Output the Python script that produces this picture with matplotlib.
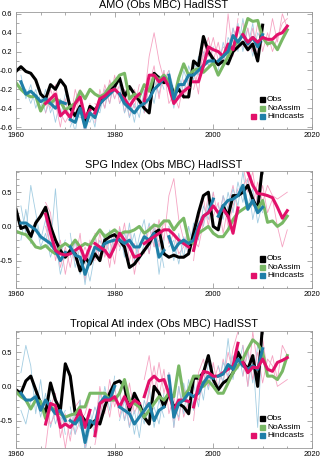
import numpy as np
from matplotlib import pyplot as plt
from matplotlib.ticker import MultipleLocator
from matplotlib.patches import Rectangle

plt.rcParams['font.family'] = ['Liberation Sans', 'DejaVu Sans']

# hindcast start years, each run is 10 years long
starts = [1961, 1966, 1971, 1976, 1981, 1986, 1991, 1996, 2001, 2006]
obs_years = np.arange(1960, 2011)
model_years = np.arange(1960, 2016)

# ---- AMO ----
amo_obs = [-0.01, 0.04, -0.01, -0.03, -0.1, -0.25, -0.3, -0.15, -0.2, -0.1,
           -0.17, -0.4, -0.48, -0.38, -0.55, -0.38, -0.42, -0.35, -0.28, -0.22,
           -0.17, -0.08, -0.28, -0.17, -0.25, -0.32, -0.4, -0.45, -0.03, -0.08,
           -0.13, -0.1, -0.25, -0.2, -0.28, -0.28, 0.1, 0.05, 0.36, 0.2,
           0.12, 0.06, 0.1, 0.07, 0.2, 0.25, 0.3, 0.22, 0.28, 0.1, 0.48]
amo_noassim = [-0.13, -0.2, -0.25, -0.28, -0.27, -0.43, -0.33, -0.35, -0.3, -0.33,
               -0.42, -0.38, -0.35, -0.22, -0.3, -0.2, -0.25, -0.28, -0.25, -0.17,
               -0.12, -0.05, -0.03, -0.3, -0.25, -0.28, -0.15, -0.22, -0.05, -0.1,
               -0.05, -0.12, -0.3, -0.08, 0.07, -0.05, 0.0, 0.02, -0.02, 0.03,
               0.08, -0.05, 0.05, 0.15, 0.25, 0.3, 0.38, 0.55, 0.52, 0.53,
               0.35, 0.28, 0.3, 0.22, 0.33, 0.43]
amo_hind = [
    [-0.12, -0.25, -0.22, -0.27, -0.33, -0.3, -0.35, -0.4, -0.33, -0.35],
    [-0.35, -0.3, -0.25, -0.48, -0.43, -0.5, -0.35, -0.28, -0.5, -0.42],
    [-0.52, -0.55, -0.4, -0.6, -0.45, -0.5, -0.35, -0.3, -0.25, -0.2],
    [-0.45, -0.3, -0.27, -0.22, -0.2, -0.25, -0.3, -0.38, -0.3, -0.25],
    [-0.25, -0.35, -0.4, -0.45, -0.38, -0.35, -0.3, -0.2, -0.15, -0.08],
    [-0.32, -0.05, -0.05, -0.12, -0.08, -0.17, -0.35, -0.28, -0.22, -0.18],
    [-0.05, -0.3, -0.15, -0.15, -0.05, -0.05, 0.0, 0.05, 0.1, 0.1],
    [-0.12, -0.12, 0.05, 0.25, 0.22, 0.2, 0.15, 0.28, 0.22, 0.45],
    [0.1, 0.15, 0.2, 0.37, 0.3, 0.38, 0.28, 0.35, 0.25, 0.38],
    [0.38, 0.3, 0.35, 0.3, 0.35, 0.33, 0.33, 0.38, 0.4, 0.47],
]
amo_members = [
    [-0.05, -0.3, -0.15, -0.4, -0.25, -0.45, -0.3, -0.55, -0.3, -0.45],
    [-0.2, -0.2, -0.35, -0.2, -0.4, -0.2, -0.45, -0.3, -0.5, -0.25],
    [-0.45, -0.2, -0.35, -0.6, -0.3, -0.55, -0.2, -0.4, -0.65, -0.35],
    [-0.3, -0.4, -0.15, -0.45, -0.55, -0.45, -0.5, -0.2, -0.45, -0.5],
    [-0.45, -0.65, -0.35, -0.7, -0.4, -0.6, -0.25, -0.4, -0.15, -0.3],
    [-0.6, -0.45, -0.5, -0.5, -0.55, -0.4, -0.45, -0.2, -0.35, -0.1],
    [-0.55, -0.2, -0.4, -0.1, -0.3, -0.15, -0.45, -0.25, -0.4, -0.15],
    [-0.35, -0.4, -0.15, -0.35, -0.05, -0.35, -0.2, -0.5, -0.2, -0.35],
    [-0.15, -0.45, -0.3, -0.55, -0.25, -0.45, -0.15, -0.35, -0.05, -0.2],
    [-0.35, -0.25, -0.5, -0.35, -0.5, -0.2, -0.4, -0.1, -0.25, 0.0],
    [-0.3, 0.15, 0.4, 0.1, -0.1, 0.0, -0.35, -0.2, -0.3, -0.1],
    [-0.45, -0.15, 0.05, -0.3, 0.0, -0.35, -0.25, -0.4, -0.1, -0.3],
    [-0.1, -0.4, -0.05, -0.25, 0.05, -0.1, 0.15, 0.0, 0.2, 0.05],
    [0.0, -0.2, -0.3, 0.0, -0.15, 0.1, -0.05, 0.2, 0.05, 0.25],
    [-0.2, 0.0, 0.15, 0.35, 0.1, 0.3, 0.05, 0.6, 0.15, 0.55],
    [0.0, -0.25, 0.3, 0.15, 0.35, 0.1, 0.25, 0.2, 0.45, 0.3],
    [0.2, 0.05, 0.35, 0.25, 0.5, 0.2, 0.45, 0.15, 0.4, 0.3],
    [0.0, 0.3, 0.1, 0.45, 0.2, 0.55, 0.25, 0.5, 0.1, 0.45],
    [0.5, 0.2, 0.45, 0.15, 0.4, 0.25, 0.55, 0.3, 0.6, 0.45],
    [0.25, 0.45, 0.2, 0.5, 0.2, 0.4, 0.2, 0.35, 0.5, 0.55],
]
amo_yticks = [-0.6, -0.4, -0.2, 0.0, 0.2, 0.4, 0.6]
amo_ylabels = ['-0.6', '-0.4', '-0.2', '-0.0', '0.2', '0.4', '0.6']

# ---- SPG ----
spg_obs = [0.25, -0.03, 0.0, -0.15, 0.05, 0.15, 0.28, 0.0, -0.2, -0.35,
           -0.45, -0.35, -0.4, -0.65, -0.45, -0.55, -0.4, -0.5, -0.2, -0.15,
           -0.12, -0.2, -0.3, -0.6, -0.55, -0.45, -0.35, -0.25, -0.1, -0.05,
           -0.4, -0.45, -0.42, -0.45, -0.45, -0.4, -0.1, 0.2, 0.45, 0.5,
           0.0, -0.05, 0.3, 0.15, 0.45, 0.45, 0.5, 0.6, 0.4, 0.25, 0.9]
spg_noassim = [-0.07, -0.1, -0.12, -0.2, -0.3, -0.32, -0.28, -0.35, -0.4, -0.3,
               -0.25, -0.3, -0.2, -0.3, -0.25, -0.28, -0.15, -0.05, -0.15, -0.1,
               -0.05, -0.12, -0.08, -0.08, -0.05, 0.0, -0.1, -0.05, 0.02, 0.0,
               0.08, 0.08, -0.05, 0.05, 0.12, -0.2, -0.25, -0.1, -0.05, 0.0,
               -0.1, -0.15, -0.15, -0.05, 0.1, 0.2, 0.25, 0.3, 0.35, 0.25,
               0.38, 0.06, 0.08, 0.0, 0.05, 0.15]
spg_hind = [
    [0.05, 0.05, 0.0, -0.05, -0.15, -0.2, -0.25, -0.35, -0.5, -0.38],
    [0.18, -0.1, -0.35, -0.4, -0.42, -0.4, -0.35, -0.3, -0.48, -0.3],
    [-0.3, -0.42, -0.45, -0.7, -0.5, -0.3, -0.35, -0.25, -0.22, -0.2],
    [-0.25, -0.3, -0.35, -0.45, -0.3, -0.1, -0.2, -0.3, -0.45, -0.42],
    [-0.2, -0.25, -0.2, -0.3, -0.3, -0.15, -0.2, -0.1, -0.45, -0.35],
    [-0.25, -0.2, -0.15, -0.1, -0.05, -0.05, -0.12, -0.2, -0.25, -0.3],
    [-0.15, -0.35, -0.25, -0.2, -0.25, -0.2, 0.0, 0.15, 0.2, 0.4],
    [-0.35, -0.05, 0.15, 0.2, 0.3, 0.2, 0.25, 0.15, -0.1, 0.27],
    [0.15, 0.3, 0.38, 0.4, 0.45, 0.6, 0.25, 0.38, 0.2, 0.28],
    [0.9, 0.8, 0.6, 0.48, 0.47, 0.45, 0.42, 0.28, 0.12, 0.23],
]
spg_members = [
    [0.3, -0.1, 0.6, 0.2, -0.2, 0.1, -0.3, 0.55, -0.4, -0.2],
    [-0.2, 0.25, -0.25, 0.1, -0.3, -0.1, -0.45, -0.2, -0.7, -0.4],
    [0.35, 0.2, -0.5, -0.2, -0.7, -0.3, -0.5, -0.1, -0.8, -0.2],
    [0.0, -0.3, -0.15, -0.6, -0.3, -0.6, -0.2, -0.5, -0.3, -0.5],
    [-0.1, -0.6, -0.3, -0.85, -0.35, -0.15, -0.5, -0.1, -0.4, -0.1],
    [-0.45, -0.2, -0.7, -0.5, -0.8, -0.4, -0.2, -0.4, -0.05, -0.35],
    [-0.5, -0.1, -0.45, -0.2, -0.55, 0.0, -0.35, -0.05, -0.7, -0.3],
    [-0.1, -0.5, -0.2, -0.6, -0.1, -0.3, 0.05, -0.5, -0.25, -0.55],
    [-0.05, -0.45, 0.05, -0.5, -0.15, 0.1, -0.4, 0.0, -0.7, -0.2],
    [-0.35, -0.1, -0.35, -0.1, -0.5, -0.25, 0.05, -0.3, -0.2, -0.6],
    [-0.4, 0.0, -0.3, 0.1, -0.2, 0.45, 0.7, 0.1, -0.2, -0.4],
    [-0.1, -0.4, 0.05, -0.3, 0.1, -0.25, -0.1, -0.4, -0.3, 0.0],
    [0.0, -0.5, -0.1, -0.45, 0.0, -0.3, 0.2, 0.0, 0.35, 0.15],
    [-0.3, -0.2, -0.55, -0.15, -0.4, 0.05, -0.2, 0.3, 0.1, 0.5],
    [-0.5, 0.1, 0.4, 0.0, 0.5, 0.1, 0.45, 0.0, 0.3, 0.55],
    [-0.2, -0.3, 0.05, 0.45, 0.15, 0.35, -0.1, 0.3, 0.6, 0.2],
    [0.3, 0.1, 0.5, 0.2, 0.65, 0.35, 0.7, 0.1, 0.45, 0.2],
    [0.0, 0.45, 0.25, 0.55, 0.3, 0.8, 0.3, 0.55, 0.05, 0.35],
    [0.9, 0.5, 0.8, 0.3, 0.6, 0.2, 0.4, 0.0, -0.3, -0.05],
    [0.6, 0.7, 0.3, 0.65, 0.35, 0.6, 0.45, 0.4, 0.45, 0.5],
]

# ---- Tropical Atlantic ----
tra_obs = [-0.05, -0.1, 0.08, 0.15, -0.05, -0.25, -0.4, 0.05, -0.2, -0.35,
           0.33, 0.15, -0.4, -0.4, -0.5, -0.6, -0.5, -0.55, -0.3, -0.1,
           0.05, 0.08, 0.0, -0.35, -0.1, -0.25, -0.45, -0.55, 0.0, -0.1,
           -0.3, -0.1, -0.3, -0.25, -0.3, -0.4, 0.12, 0.12, 0.2, 0.45,
           0.1, -0.05, 0.05, 0.1, 0.2, 0.5, 0.35, 0.25, 0.45, 0.0, 0.9]
tra_noassim = [-0.08, -0.15, -0.2, -0.33, -0.2, -0.22, -0.47, -0.3, -0.35, -0.4,
               -0.45, -0.42, -0.4, -0.3, -0.3, -0.1, -0.1, -0.1, -0.1, -0.2,
               -0.2, -0.1, 0.1, -0.2, -0.25, -0.3, -0.45, -0.35, -0.25, -0.15,
               -0.2, -0.1, -0.15, 0.3, -0.15, -0.05, 0.15, 0.15, 0.0, 0.08,
               0.0, -0.1, -0.1, 0.05, 0.2, 0.3, 0.4, 0.55, 0.68, 0.62,
               0.5, 0.15, 0.15, 0.1, 0.22, 0.45]
tra_hind = [
    [-0.1, -0.2, -0.2, -0.15, -0.35, -0.2, -0.3, -0.4, -0.35, -0.5],
    [-0.55, -0.25, -0.28, -0.6, -0.55, -0.6, -0.5, -0.35, -0.6, -0.35],
    [-0.5, -0.55, -0.45, -0.82, -0.5, -0.55, -0.25, -0.15, -0.2, 0.0],
    [-0.72, -0.25, -0.2, -0.2, -0.15, -0.3, -0.15, -0.3, -0.2, -0.25],
    [-0.3, -0.35, -0.4, -0.55, -0.45, -0.35, -0.25, -0.5, -0.35, -0.3],
    [-0.15, 0.08, 0.15, 0.08, 0.1, -0.1, -0.35, -0.2, -0.2, -0.22],
    [0.15, -0.45, -0.25, -0.2, -0.1, -0.15, -0.1, 0.05, 0.15, 0.12],
    [-0.3, 0.0, 0.22, 0.2, 0.15, 0.15, 0.2, 0.25, 0.3, 0.63],
    [0.15, 0.18, 0.32, 0.25, 0.4, 0.3, 0.25, 0.3, 0.25, 0.55],
    [0.35, 0.2, 0.28, 0.27, 0.4, 0.25, 0.22, 0.35, 0.38, 0.42],
]
tra_members = [
    [0.2, 0.6, 0.3, -0.4, 0.1, -0.5, -0.2, -0.55, -0.3, -0.7],
    [-0.35, -0.55, -0.2, -0.1, -0.45, -0.1, -0.6, -0.3, -0.5, -0.35],
    [-0.9, -0.3, -0.1, -0.75, -0.4, -0.8, -0.3, -0.2, -0.9, -0.5],
    [-0.3, -0.55, -0.4, -0.45, -0.9, -0.45, -0.7, -0.5, -0.4, -0.15],
    [-0.3, -0.7, -0.2, -0.95, -0.6, -0.3, -0.5, 0.0, -0.35, 0.15],
    [-0.7, -0.4, -0.6, -0.7, -0.35, -0.75, -0.1, -0.35, -0.05, -0.2],
    [-0.6, 0.0, -0.4, 0.1, -0.3, -0.05, -0.5, 0.05, -0.4, -0.2],
    [-0.85, -0.45, -0.1, -0.45, 0.0, -0.45, -0.1, -0.6, -0.1, -0.4],
    [-0.1, -0.5, -0.25, -0.7, -0.3, -0.55, 0.0, -0.6, -0.2, -0.45],
    [-0.5, -0.2, -0.6, -0.35, -0.75, -0.2, -0.45, -0.3, -0.55, -0.1],
    [0.1, 0.45, -0.1, 0.35, -0.1, 0.2, -0.6, 0.0, -0.45, -0.2],
    [-0.4, -0.1, 0.3, -0.15, 0.25, -0.4, -0.15, -0.5, 0.0, -0.35],
    [0.2, -0.6, 0.0, -0.4, 0.1, -0.35, 0.15, -0.2, 0.35, 0.0],
    [-0.1, -0.3, -0.45, 0.05, -0.3, 0.05, -0.3, 0.25, -0.05, 0.3],
    [-0.5, 0.2, 0.4, 0.0, 0.35, -0.05, 0.4, 0.1, 0.55, 0.8],
    [-0.1, -0.2, 0.05, 0.45, 0.05, 0.3, 0.05, 0.5, 0.2, 0.45],
    [0.3, 0.05, 0.7, 0.1, 0.55, 0.15, 0.5, 0.05, 0.6, 0.35],
    [0.0, 0.35, 0.15, 0.45, 0.25, 0.6, 0.0, 0.45, -0.6, 0.8],
    [0.6, 0.0, 0.8, 0.3, 0.7, 0.2, 0.45, 0.1, 0.6, 0.45],
    [0.15, 0.55, 0.1, 0.5, 0.05, 0.4, 0.3, 0.0, 0.05, 0.1],
]
half_ticks = [-0.5, 0.0, 0.5]
half_labels = ['-0.5', '0.0', '0.5']

xticks = [1960, 1980, 2000, 2020]

BLACK = 'black'
GREEN = '#79b865'
PINK = '#e2106a'
BLUE = '#1f7fa8'
PINK_THIN = '#f5a3c2'
BLUE_THIN = '#a3cde2'


def draw_panel(ax, title, obs, noassim, hind, members, ylim, yticks, ylabels, yminor):
    # thin ensemble members first
    for i, s in enumerate(starts):
        yrs = np.arange(s, s + 10)
        col = BLUE_THIN if i % 2 == 0 else PINK_THIN
        for m in members[2 * i:2 * i + 2]:
            ax.plot(yrs, m, color=col, lw=0.6)
    ax.plot(obs_years, obs, color=BLACK, lw=2.2)
    ax.plot(model_years, noassim, color=GREEN, lw=2.2)
    for i, s in enumerate(starts):
        yrs = np.arange(s, s + 10)
        col = BLUE if i % 2 == 0 else PINK
        ax.plot(yrs, hind[i], color=col, lw=2.2)

    ax.set_xlim(1960, 2020)
    ax.set_ylim(*ylim)
    ax.set_xticks(xticks)
    ax.set_xticklabels([str(x) for x in xticks])
    ax.xaxis.set_minor_locator(MultipleLocator(5))
    ax.set_yticks(yticks)
    ax.set_yticklabels(ylabels)
    ax.yaxis.set_minor_locator(MultipleLocator(yminor))
    ax.tick_params(which='both', direction='in', top=True, right=True,
                   width=0.5, color='#888888', labelsize=5.5, pad=2.5)
    ax.tick_params(which='major', length=3.5)
    ax.tick_params(which='minor', length=1.8)
    for sp in ax.spines.values():
        sp.set_color('#999999')
        sp.set_linewidth(0.6)
    ax.set_title(title, fontsize=7.8, pad=2.5)

    # legend built by hand: coloured squares plus labels
    w, h = 0.017, 0.043
    rows = [(0.248, 'Obs', [BLACK]), (0.175, 'NoAssim', [GREEN]),
            (0.104, 'Hindcasts', [BLUE, PINK])]
    for yc, label, cols in rows:
        for k, c in enumerate(cols):
            x0 = 0.823 - 0.029 * k
            ax.add_patch(Rectangle((x0, yc - h / 2), w, h, color=c,
                                   transform=ax.transAxes, clip_on=False))
        ax.text(0.848, yc, label, transform=ax.transAxes, fontsize=6,
                va='center', ha='left')


fig = plt.figure(figsize=(3.21, 4.59), dpi=100)
ax1 = fig.add_axes([0.0498, 0.719, 0.922, 0.255])
ax2 = fig.add_axes([0.0498, 0.3725, 0.922, 0.255])
ax3 = fig.add_axes([0.0498, 0.024, 0.922, 0.255])

draw_panel(ax1, 'AMO (Obs MBC) HadISST', amo_obs, amo_noassim, amo_hind,
           amo_members, (-0.62, 0.62), amo_yticks, amo_ylabels, 0.1)
draw_panel(ax2, 'SPG Index (Obs MBC) HadISST', spg_obs, spg_noassim, spg_hind,
           spg_members, (-0.9, 0.81), half_ticks, half_labels, 0.1)
draw_panel(ax3, 'Tropical Atl index (Obs MBC) HadISST', tra_obs, tra_noassim,
           tra_hind, tra_members, (-0.9, 0.81), half_ticks, half_labels, 0.1)

fig.savefig('out.png', dpi=100)
